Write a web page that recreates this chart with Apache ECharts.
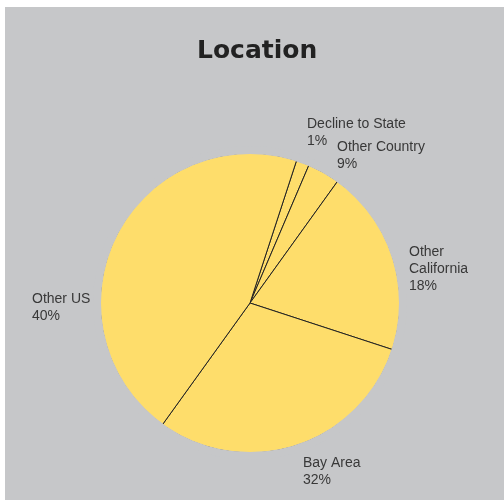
<!DOCTYPE html>
<html>
<head>
<meta charset="utf-8">
<script src="https://cdn.jsdelivr.net/npm/echarts@6/dist/echarts.min.js"></script>
<style>
  html, body { margin: 0; padding: 0; background: #ffffff; }
  #chart { position: absolute; left: 5px; top: 7px; width: 499px; height: 493px; }
</style>
</head>
<body>
<div id="chart"></div>
<script>
// slices clockwise, starting just right of 12 o'clock
var categories = ['Decline to State', 'Other Country', 'Other California', 'Bay Area', 'Other US'];
// slice sizes as drawn
var shares = [1.4, 3.5, 20.1, 29.9, 45.1];
// percentages printed in the labels
var labelPct = [1, 9, 18, 32, 40];

// label boxes (top-left), same order as categories
var labelPos = [[302, 109], [332, 132], [404, 237], [298, 448], [27, 284]];

var myChart = echarts.init(document.getElementById('chart'));

var pieData = categories.map(function (name, i) {
    return { name: name, value: shares[i] };
});

option = {
    backgroundColor: '#c6c7c9',
    animation: false,
    title: {
        text: 'Location',
        left: 187,
        top: 27,
        textStyle: {
            fontFamily: 'DejaVu Sans',
            fontWeight: 'bold',
            fontSize: 25,
            color: '#222222'
        }
    },
    series: [
        {
            name: 'Location',
            type: 'pie',
            center: [245, 296],
            radius: 150,
            startAngle: 71.9,
            clockwise: true,
            data: pieData,
            itemStyle: {
                color: '#fedd6b',
                borderColor: '#222222',
                borderWidth: 1
            },
            emphasis: { disabled: true },
            labelLine: { show: false },
            label: {
                show: true,
                position: 'outside',
                overflow: 'none',
                fontFamily: 'Liberation Sans',
                fontSize: 14,
                lineHeight: 17,
                color: '#383838',
                formatter: function (p) {
                    return p.name.replace('Other California', 'Other\nCalifornia') + '\n' + labelPct[p.dataIndex] + '%';
                }
            },
            labelLayout: function (p) {
                var pos = labelPos[p.dataIndex];
                return { x: pos[0], y: pos[1], align: 'left', verticalAlign: 'top' };
            }
        },
        {
            // covers the dark outline on the rim
            type: 'pie',
            silent: true,
            center: [245, 296],
            radius: [149, 157],
            data: [{ value: 1, name: 'rim' }],
            itemStyle: { color: '#c6c7c9', borderWidth: 0 },
            label: { show: false },
            labelLine: { show: false },
            emphasis: { disabled: true }
        }
    ]
};
myChart.setOption(option);
</script>
</body>
</html>
